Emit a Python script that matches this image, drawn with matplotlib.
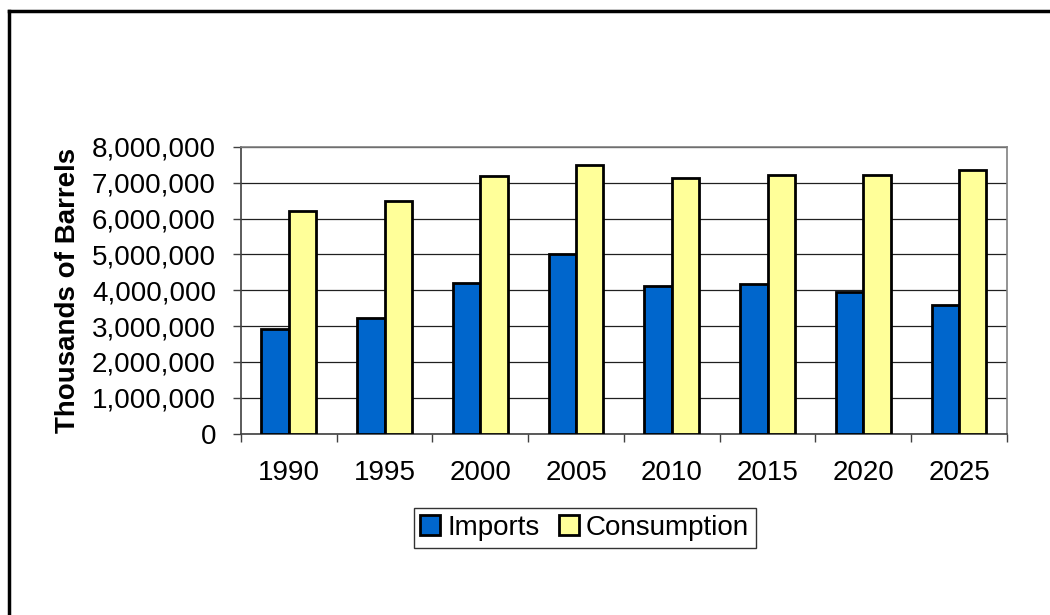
import matplotlib
matplotlib.use("Agg")
import matplotlib.pyplot as plt
import numpy as np
from matplotlib.ticker import FuncFormatter, FixedLocator, NullFormatter
from matplotlib.lines import Line2D

years = ['1990', '1995', '2000', '2005', '2010', '2015', '2020', '2025']
imports = [2930000, 3220000, 4190000, 5000000, 4130000, 4170000, 3950000, 3600000]
consumption = [6210000, 6480000, 7200000, 7490000, 7130000, 7220000, 7230000, 7360000]

plt.rcParams['font.family'] = ['Liberation Sans', 'DejaVu Sans']

fig = plt.figure(figsize=(10.5, 6.15), dpi=100)
ax = fig.add_axes([0.2295, 0.295, 0.7295, 0.466])

x = np.arange(len(years))
w = 1 / 3.5
ax.bar(x - w / 2, imports, w, color='#0066CC', edgecolor='black', linewidth=2.0,
       label='Imports', zorder=3)
ax.bar(x + w / 2, consumption, w, color='#FFFF99', edgecolor='black', linewidth=2.0,
       label='Consumption', zorder=3)

ax.set_xlim(-0.5, len(years) - 0.5)
ax.set_ylim(0, 8000000)
ax.set_yticks(np.arange(0, 8000001, 1000000))
ax.yaxis.set_major_formatter(FuncFormatter(lambda v, p: f'{int(v):,}'))
ax.yaxis.grid(True, color='#202020', linewidth=0.9, zorder=0)

ax.xaxis.set_major_locator(FixedLocator(np.arange(-0.5, len(years), 1)))
ax.xaxis.set_major_formatter(NullFormatter())
ax.xaxis.set_minor_locator(FixedLocator(x))
ax.set_xticklabels(years, minor=True)
ax.tick_params(axis='x', which='minor', length=0, pad=19, labelsize=20)
ax.tick_params(axis='x', which='major', length=6, width=1, color='#404040', direction='out')
ax.tick_params(axis='y', length=6, width=1, color='#404040', labelsize=20, pad=12)

for s in ax.spines.values():
    s.set_color('#808080')
    s.set_linewidth(1.2)
ax.spines['left'].set_color('#404040')
ax.spines['bottom'].set_color('#404040')

ax.set_ylabel('Thousands of Barrels', fontsize=20, fontweight='bold', labelpad=8)

leg = fig.legend(loc='center', bbox_to_anchor=(0.557, 0.1415), ncol=2, fontsize=20,
                 frameon=True, fancybox=False, handlelength=0.72, handleheight=0.72,
                 handletextpad=0.25, columnspacing=0.7, borderpad=0.25)
leg.get_frame().set_edgecolor('black')
leg.get_frame().set_linewidth(1.0)

fig.add_artist(Line2D([9 / 1050, 9 / 1050], [0, 1 - 11 / 615], color='black', linewidth=2.5,
                      transform=fig.transFigure))
fig.add_artist(Line2D([9 / 1050, 1], [1 - 11 / 615, 1 - 11 / 615], color='black', linewidth=2.5,
                      transform=fig.transFigure))

fig.savefig('out.png', dpi=100)
